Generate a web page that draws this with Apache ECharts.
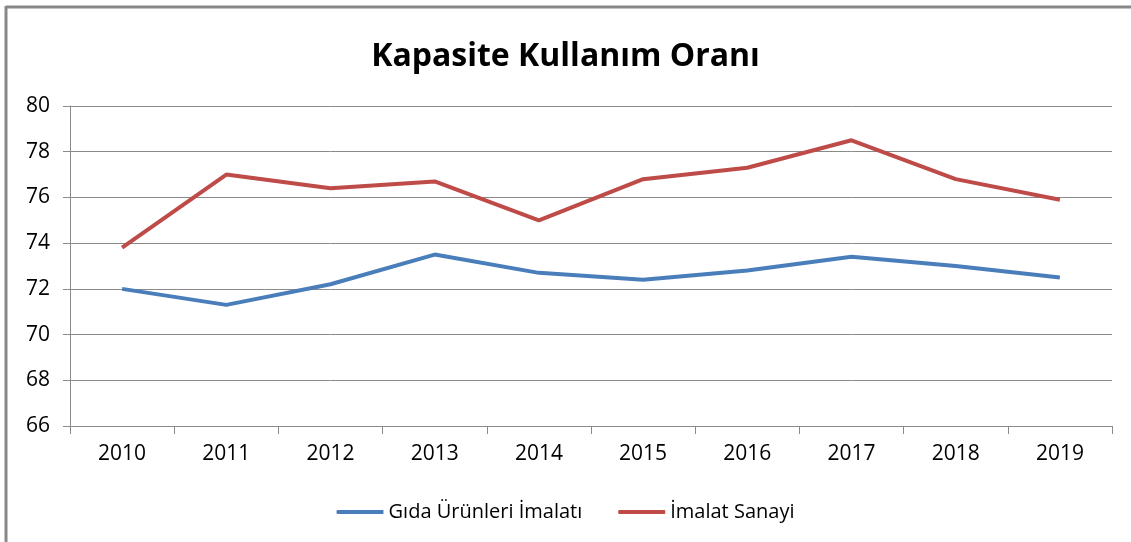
<!DOCTYPE html>
<html>
<head>
<meta charset="utf-8">
<script src="https://cdn.jsdelivr.net/npm/echarts@6/dist/echarts.min.js"></script>
<style>
html,body{margin:0;padding:0;background:#fff;}
#chart{width:1131px;height:542px;}
</style>
</head>
<body>
<div id="chart"></div>
<script>
const titleText = 'Kapasite Kullanım Oranı';
const years = ['2010','2011','2012','2013','2014','2015','2016','2017','2018','2019'];
const gidaName = 'Gıda Ürünleri İmalatı';
const gida = [72.0, 71.3, 72.2, 73.5, 72.7, 72.4, 72.8, 73.4, 73.0, 72.5];
const sanayiName = 'İmalat Sanayi';
const sanayi = [73.8, 77.0, 76.4, 76.7, 75.0, 76.8, 77.3, 78.5, 76.8, 75.9];
const yMin = 66, yMax = 80, yStep = 2;

const font = 'Open Sans';
const chart = echarts.init(document.getElementById('chart'), null, {renderer:'canvas'});
chart.setOption({
  animation: false,
  backgroundColor: '#ffffff',
  title: {
    text: titleText, left: 'center', top: 36,
    textStyle: {fontFamily: font, fontWeight: 'bold', fontSize: 32, color: '#000'}
  },
  legend: {
    bottom: 15, left: 'center', itemGap: 36, itemWidth: 47, itemHeight: 4,
    icon: 'roundRect',
    textStyle: {fontFamily: font, fontSize: 20, color: '#000'},
    data: [gidaName, sanayiName]
  },
  grid: {left: 70, right: 19, top: 106, bottom: 116, containLabel: false},
  xAxis: {
    type: 'category', data: years, boundaryGap: true,
    axisLine: {lineStyle: {color: '#8a8a8a', width: 1}},
    axisTick: {show: true, length: 8, lineStyle: {color: '#8a8a8a'}},
    axisLabel: {fontFamily: font, fontSize: 21, color: '#000', margin: 18}
  },
  yAxis: {
    type: 'value', min: yMin, max: yMax, interval: yStep,
    axisLine: {show: true, lineStyle: {color: '#8a8a8a', width: 1}},
    axisTick: {show: true, length: 7, lineStyle: {color: '#8a8a8a'}},
    splitLine: {lineStyle: {color: '#8a8a8a', width: 1}},
    axisLabel: {fontFamily: font, fontSize: 21, color: '#000', margin: 20}
  },
  graphic: [
    {type: 'line', shape: {x1: 6, y1: 7, x2: 1131, y2: 7}, style: {stroke: '#888', lineWidth: 3}},
    {type: 'line', shape: {x1: 6, y1: 6, x2: 6, y2: 542}, style: {stroke: '#888', lineWidth: 3}}
  ],
  series: [
    {name: gidaName, type: 'line', data: gida, symbol: 'none',
     lineStyle: {color: '#4a7ebb', width: 4}, itemStyle: {color: '#4a7ebb'}},
    {name: sanayiName, type: 'line', data: sanayi, symbol: 'none',
     lineStyle: {color: '#be4b48', width: 4}, itemStyle: {color: '#be4b48'}}
  ]
});
</script>
</body>
</html>
